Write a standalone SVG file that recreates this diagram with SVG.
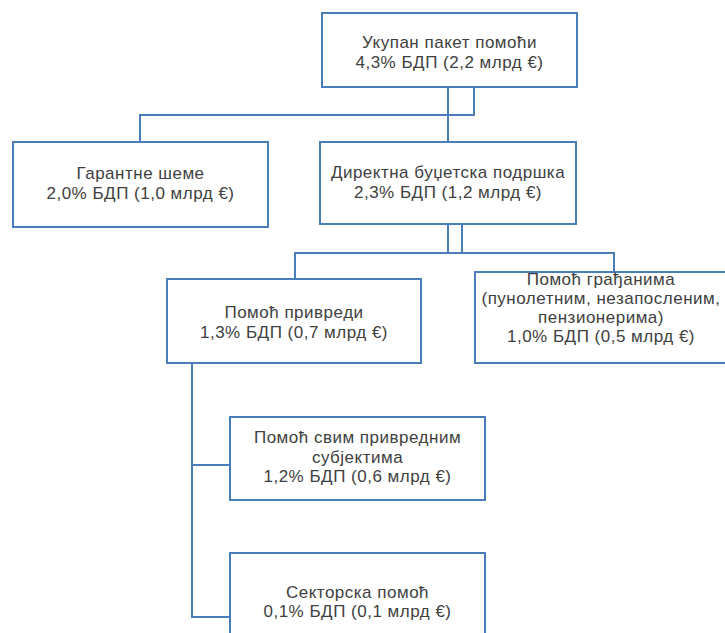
<svg xmlns="http://www.w3.org/2000/svg" width="725" height="633" viewBox="0 0 725 633">
<style>
.box{fill:#ffffff;stroke:#4a7ebb;stroke-width:2}
.con{fill:none;stroke:#4a7ebb;stroke-width:2}
text{font-family:"Liberation Sans",Arial,sans-serif;font-size:17px;letter-spacing:0.5px;fill:#404040;text-anchor:middle}
</style>
<rect width="725" height="633" fill="#ffffff"/>
<g id="connectors">
<polyline class="con" points="448,87 448,142"/>
<polyline class="con" points="474,87 474,115 140,115 140,142"/>
<polyline class="con" points="448,224 448,253"/>
<polyline class="con" points="462,224 462,253"/>
<polyline class="con" points="295,279 295,253 614,253 614,272"/>
<polyline class="con" points="192,363 192,617 230,617"/>
<polyline class="con" points="192,465 230,465"/>
</g>
<g id="n-total">
<rect class="box" x="322" y="13" width="255" height="74"/>
<text x="449.5" y="48">Укупан пакет помоћи</text>
<text x="449.5" y="68">4,3% БДП (2,2 млрд €)</text>
</g>
<g id="n-guarantee">
<rect class="box" x="13" y="142" width="255" height="85"/>
<text x="140.5" y="179">Гарантне шеме</text>
<text x="140.5" y="199">2,0% БДП (1,0 млрд €)</text>
</g>
<g id="n-direct">
<rect class="box" x="320" y="142" width="256" height="82"/>
<text x="448" y="178">Директна буџетска подршка</text>
<text x="448" y="198">2,3% БДП (1,2 млрд €)</text>
</g>
<g id="n-economy">
<rect class="box" x="167" y="279" width="254" height="84"/>
<text x="294" y="318">Помоћ привреди</text>
<text x="294" y="338">1,3% БДП (0,7 млрд €)</text>
</g>
<g id="n-citizens">
<rect class="box" x="475" y="272" width="260" height="91"/>
<text x="601" y="285">Помоћ грађанима</text>
<text x="601" y="304">(пунолетним, незапосленим,</text>
<text x="601" y="323">пензионерима)</text>
<text x="601" y="342">1,0% БДП (0,5 млрд €)</text>
</g>
<g id="n-all">
<rect class="box" x="230" y="417" width="255" height="83"/>
<text x="357.5" y="443">Помоћ свим привредним</text>
<text x="357.5" y="463">субјектима</text>
<text x="357.5" y="482">1,2% БДП (0,6 млрд €)</text>
</g>
<g id="n-sector">
<rect class="box" x="230" y="553" width="255" height="100"/>
<text x="357.5" y="598">Секторска помоћ</text>
<text x="357.5" y="617">0,1% БДП (0,1 млрд €)</text>
</g>
</svg>
